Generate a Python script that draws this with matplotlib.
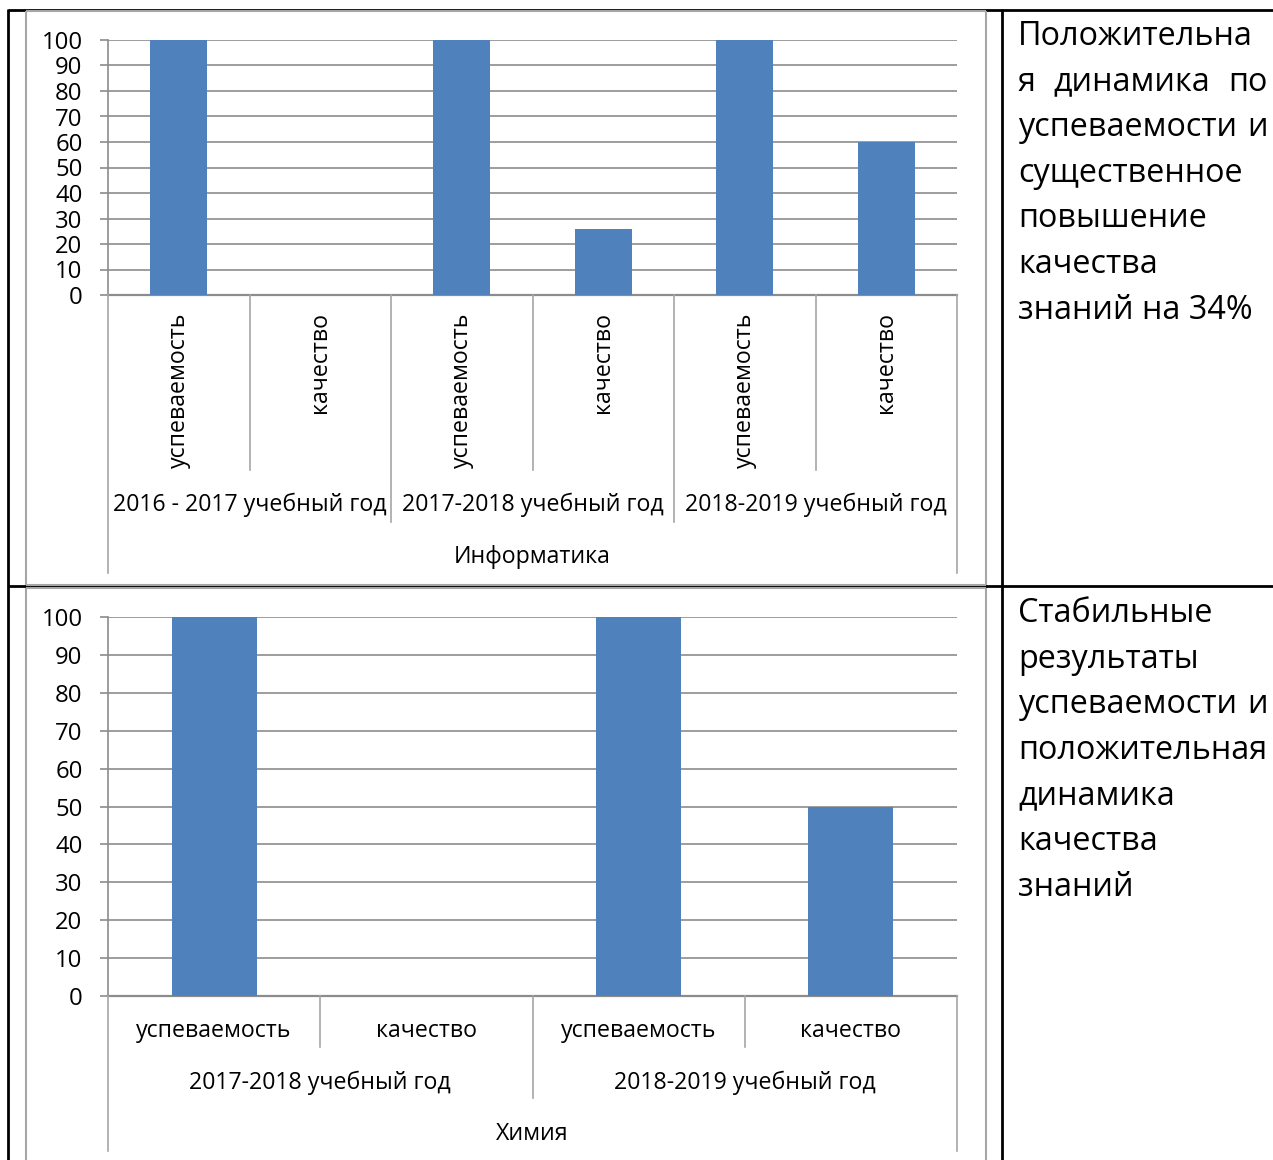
import matplotlib
matplotlib.use('Agg')
import matplotlib.pyplot as plt
from matplotlib.lines import Line2D
import matplotlib.transforms as mtransforms

# ---------------- data ----------------
inf_subject = 'Информатика'
inf_years = ['2016 - 2017 учебный год', '2017-2018 учебный год', '2018-2019 учебный год']
chem_subject = 'Химия'
chem_years = ['2017-2018 учебный год', '2018-2019 учебный год']
metrics = ['успеваемость', 'качество']
inf_values = [100, 0, 100, 26, 100, 60]
chem_values = [100, 0, 100, 50]
y_ticks = [0, 10, 20, 30, 40, 50, 60, 70, 80, 90, 100]
note1_lines = ['Положительна', 'я динамика по', 'успеваемости и', 'существенное',
               'повышение', 'качества', 'знаний на 34%']
note1_justify = [False, True, True, False, False, False, False]
note2_lines = ['Стабильные', 'результаты', 'успеваемости и', 'положительная',
               'динамика', 'качества', 'знаний']
note2_justify = [False, False, True, False, False, False, False]

# ---------------- style ----------------
FONT = ['Open Sans', 'DejaVu Sans']
plt.rcParams['font.family'] = FONT
W, H = 1273, 1160
BAR = '#4F81BD'
GRID = '#8c8c8c'
FRAME = '#a6a6a6'
CHART_FS = 16.7
TICK_FS = 17.2
NOTE_FS = 23.3

fig = plt.figure(figsize=(W / 100, H / 100), dpi=100)


def fx(px):
    return px / W


def fy(py):
    return 1 - py / H


def fline(x0, y0, x1, y1, color, lw):
    fig.add_artist(Line2D([fx(x0), fx(x1)], [fy(y0), fy(y1)], transform=fig.transFigure,
                          color=color, lw=lw, solid_capstyle='butt'))


def chart(left, right, top, bottom, values, years, subject, rotated,
          y_cat_lab, y_cat_end, y_year_lab, y_grp_end, y_subj_lab, y_out_end):
    ax = fig.add_axes([fx(left), fy(bottom), fx(right - left), (bottom - top) / H])
    n = len(values)
    xs = list(range(n))
    ax.bar(xs, values, width=0.4, color=BAR, zorder=3)
    ax.set_xlim(-0.5, n - 0.5)
    ax.set_ylim(0, 100)
    ax.set_yticks(y_ticks)
    ax.set_yticklabels([str(t) for t in y_ticks], fontsize=TICK_FS)
    ax.set_xticks([])
    for t in y_ticks:
        ax.axhline(t, color=GRID, lw=1.2, zorder=1)
    for s in ['top', 'right']:
        ax.spines[s].set_visible(False)
    ax.spines['left'].set_color(GRID)
    ax.spines['left'].set_linewidth(1.2)
    ax.spines['bottom'].set_color(GRID)
    ax.spines['bottom'].set_linewidth(1.6)
    ax.tick_params(axis='y', length=5.8, width=1.2, color=GRID, pad=12.5)
    ax.set_facecolor('none')

    tr = mtransforms.blended_transform_factory(ax.transData, fig.transFigure)
    # separators
    for i in range(n + 1):
        xb = i - 0.5
        if i == 0 or i == n:
            yend = y_out_end
        elif i % 2 == 0:
            yend = y_grp_end
        else:
            yend = y_cat_end
        fig.add_artist(Line2D([xb, xb], [fy(bottom), fy(yend)], transform=tr,
                              color=FRAME, lw=1.2))
    # category labels
    for i in range(n):
        lab = metrics[i % 2]
        if rotated:
            fig.text(i, fy(y_cat_lab), lab, transform=tr, rotation=90,
                     ha='center', va='top', fontsize=CHART_FS)
        else:
            fig.text(i, fy(y_cat_lab), lab, transform=tr,
                     ha='center', va='center', fontsize=CHART_FS)
    for g, yr in enumerate(years):
        fig.text(2 * g + 0.5, fy(y_year_lab), yr, transform=tr,
                 ha='center', va='center', fontsize=CHART_FS)
    fig.text((n - 1) / 2, fy(y_subj_lab), subject, transform=tr,
             ha='center', va='center', fontsize=CHART_FS)
    return ax


chart(108, 957, 40, 295, inf_values, inf_years, inf_subject, True,
      312, 470, 505, 522, 557, 573)
chart(108, 957, 617, 996, chem_values, chem_years, chem_subject, False,
      1031, 1047, 1083, 1098, 1134, 1151)

# table lines (black) and chart frames (gray)
fline(8, 10, W, 10, 'black', 2)
fline(8, 586, W, 586, 'black', 2)
fline(8, 9, 8, H, 'black', 2)
fline(1002, 9, 1002, H, 'black', 2)
# chart frames
fline(26, 11, 986, 11, FRAME, 1.5)
fline(26, 11, 26, 585, FRAME, 1.5)
fline(986, 11, 986, 585, FRAME, 1.5)
fline(26, 585, 986, 585, FRAME, 1.5)
fline(26, 588, 986, 588, FRAME, 1.5)
fline(26, 588, 26, H, FRAME, 1.5)
fline(986, 588, 986, H, FRAME, 1.5)

# notes (justified text)
renderer = fig.canvas.get_renderer()
LEFT, RIGHT = 1018, 1268
STEP = 45.6


def note(lines, justify, baseline0):
    for k, (line, just) in enumerate(zip(lines, justify)):
        yb = fy(baseline0 + k * STEP)
        if not just:
            fig.text(fx(LEFT), yb, line, ha='left', va='baseline', fontsize=NOTE_FS)
            continue
        words = line.split()
        arts = [fig.text(0, yb, w, ha='left', va='baseline', fontsize=NOTE_FS) for w in words]
        widths = [a.get_window_extent(renderer).width for a in arts]
        gap = (RIGHT - LEFT - sum(widths)) / (len(words) - 1)
        x = LEFT
        for a, wd in zip(arts, widths):
            a.set_x(fx(x))
            x += wd + gap


note(note1_lines, note1_justify, 45)
note(note2_lines, note2_justify, 622)

fig.savefig('out.png', dpi=100)
